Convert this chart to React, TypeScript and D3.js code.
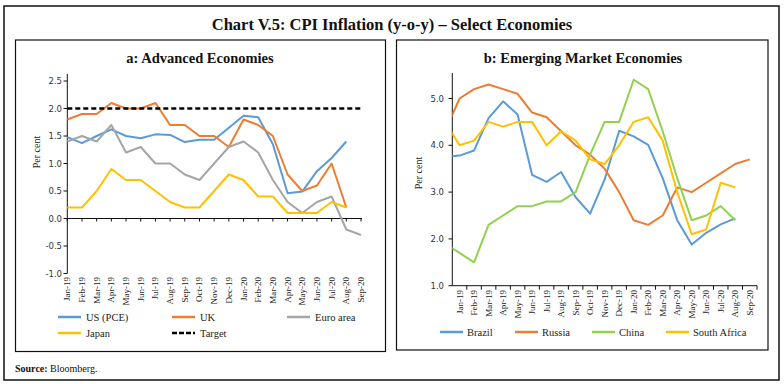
import React, { useEffect, useRef } from "react";
import * as d3 from "d3";

const months = ["Jan-19", "Feb-19", "Mar-19", "Apr-19", "May-19", "Jun-19", "Jul-19", "Aug-19", "Sep-19", "Oct-19", "Nov-19", "Dec-19",
  "Jan-20", "Feb-20", "Mar-20", "Apr-20", "May-20", "Jun-20", "Jul-20", "Aug-20", "Sep-20"];

// panel a: advanced economies (Jan-19 onwards)
const usPce = [1.48, 1.37, 1.5, 1.62, 1.5, 1.46, 1.53, 1.52, 1.39, 1.43, 1.43, 1.65, 1.87, 1.84, 1.35, 0.46, 0.49, 0.86, 1.1, 1.4];
const uk = [1.8, 1.9, 1.9, 2.1, 2.0, 2.0, 2.1, 1.7, 1.7, 1.5, 1.5, 1.3, 1.8, 1.7, 1.5, 0.8, 0.5, 0.6, 1.0, 0.2];
const euroArea = [1.4, 1.5, 1.4, 1.7, 1.2, 1.3, 1.0, 1.0, 0.8, 0.7, 1.0, 1.3, 1.4, 1.2, 0.7, 0.3, 0.1, 0.3, 0.4, -0.2, -0.3];
const japan = [0.2, 0.2, 0.5, 0.9, 0.7, 0.7, 0.5, 0.3, 0.2, 0.2, 0.5, 0.8, 0.7, 0.4, 0.4, 0.1, 0.1, 0.1, 0.3, 0.2];
const target = months.map(() => 2.0);

// panel b: emerging markets (first value is Dec-18, clipped at the axis)
const brazil = [3.75, 3.78, 3.89, 4.58, 4.94, 4.66, 3.37, 3.22, 3.43, 2.89, 2.54, 3.27, 4.31, 4.19, 4.01, 3.3, 2.4, 1.88, 2.13, 2.31, 2.44];
const russia = [4.3, 5.0, 5.2, 5.3, 5.2, 5.1, 4.7, 4.6, 4.3, 4.0, 3.8, 3.5, 3.0, 2.4, 2.3, 2.5, 3.1, 3.0, 3.2, 3.4, 3.6, 3.7];
const china = [1.9, 1.7, 1.5, 2.3, 2.5, 2.7, 2.7, 2.8, 2.8, 3.0, 3.8, 4.5, 4.5, 5.4, 5.2, 4.3, 3.3, 2.4, 2.5, 2.7, 2.4];
const southAfrica = [4.5, 4.0, 4.1, 4.5, 4.4, 4.5, 4.5, 4.0, 4.3, 4.1, 3.7, 3.6, 4.0, 4.5, 4.6, 4.1, 3.0, 2.1, 2.2, 3.2, 3.1];

const ticksA = [-1.0, -0.5, 0.0, 0.5, 1.0, 1.5, 2.0, 2.5];
const ticksB = [1.0, 2.0, 3.0, 4.0, 5.0];

const serif = "'Liberation Serif', 'DejaVu Serif', serif";
const sans = "'DejaVu Sans', sans-serif";

export default function App() {
  const ref = useRef<SVGSVGElement>(null);

  useEffect(() => {
    const svg = d3.select(ref.current);
    svg.selectAll("*").remove();

    svg.append("rect").attr("width", 784).attr("height", 384).attr("fill", "#fff");
    svg.append("rect").attr("x", 4).attr("y", 6).attr("width", 775).attr("height", 374)
      .attr("fill", "none").attr("stroke", "#111").attr("stroke-width", 1.5);
    svg.append("text").attr("x", 392).attr("y", 30).attr("text-anchor", "middle")
      .style("font-family", serif).style("font-size", "16.5px").style("font-weight", "bold").attr("fill", "#111")
      .text("Chart V.5: CPI Inflation (y-o-y) – Select Economies");

    // panel boxes
    svg.append("rect").attr("x", 15.5).attr("y", 40).attr("width", 370).attr("height", 311.5)
      .attr("fill", "none").attr("stroke", "#111").attr("stroke-width", 1.2);
    svg.append("rect").attr("x", 396.5).attr("y", 40).attr("width", 371.5).attr("height", 310)
      .attr("fill", "none").attr("stroke", "#111").attr("stroke-width", 1.2);

    const src = svg.append("text").attr("x", 15).attr("y", 372)
      .style("font-family", serif).style("font-size", "10px").attr("fill", "#111");
    src.append("tspan").style("font-weight", "bold").text("Source:");
    src.append("tspan").text(" Bloomberg.");

    const line = (x: (i: number) => number, y: d3.ScaleLinear<number, number>) =>
      d3.line<number>().x((d, i) => x(i)).y(d => y(d));

    // ---------- panel a ----------
    const a = svg.append("g");
    a.append("text").attr("x", 200).attr("y", 63).attr("text-anchor", "middle")
      .style("font-family", serif).style("font-size", "14.5px").style("font-weight", "bold").attr("fill", "#111")
      .text("a: Advanced Economies");

    const xa = d3.scalePoint<string>().domain(months).range([67.3, 361]);
    const ya = d3.scaleLinear().domain([-1, 2.5]).range([273.5, 81]);
    const xai = (i: number) => xa(months[i]) as number;

    a.append("line").attr("x1", 67.3).attr("x2", 67.3).attr("y1", 74).attr("y2", ya(-1))
      .attr("stroke", "#111").attr("stroke-width", 1);
    ticksA.forEach(t => {
      a.append("line").attr("x1", 63.5).attr("x2", 67.3).attr("y1", ya(t)).attr("y2", ya(t)).attr("stroke", "#111");
      a.append("text").attr("x", 62).attr("y", ya(t) + 3).attr("text-anchor", "end")
        .style("font-family", sans).style("font-size", "8.5px").attr("fill", "#333").text(t.toFixed(1));
    });
    a.append("line").attr("x1", 67.3).attr("x2", 362).attr("y1", ya(0)).attr("y2", ya(0))
      .attr("stroke", "#111").attr("stroke-width", 1);
    months.forEach(m => {
      const x = xa(m) as number;
      a.append("line").attr("x1", x).attr("x2", x).attr("y1", ya(0)).attr("y2", ya(0) + 3).attr("stroke", "#111");
      a.append("text").attr("transform", `translate(${x + 3},${277}) rotate(-90)`).attr("text-anchor", "end")
        .style("font-family", serif).style("font-size", "9px").attr("fill", "#222").text(m);
    });
    a.append("text").attr("transform", `translate(40,152) rotate(-90)`).attr("text-anchor", "middle")
      .style("font-family", serif).style("font-size", "10px").attr("fill", "#222").text("Per cent");

    const seriesA = [
      { name: "US (PCE)", values: usPce, color: "#5B9BD5" },
      { name: "UK", values: uk, color: "#ED7D31" },
      { name: "Euro area", values: euroArea, color: "#A5A5A5" },
      { name: "Japan", values: japan, color: "#FFC000" },
    ];
    seriesA.forEach(s => {
      a.append("path").attr("d", line(xai, ya)(s.values)).attr("fill", "none")
        .attr("stroke", s.color).attr("stroke-width", 2).attr("stroke-linejoin", "round");
    });
    a.append("path").attr("d", line(xai, ya)(target)).attr("fill", "none")
      .attr("stroke", "#000").attr("stroke-width", 2.5).attr("stroke-dasharray", "5,3");

    const legA = [
      { name: "US (PCE)", color: "#5B9BD5", x: 58, y: 317, dash: false },
      { name: "UK", color: "#ED7D31", x: 172, y: 317, dash: false },
      { name: "Euro area", color: "#A5A5A5", x: 287, y: 317, dash: false },
      { name: "Japan", color: "#FFC000", x: 58, y: 333, dash: false },
      { name: "Target", color: "#000", x: 172, y: 333, dash: true },
    ];
    legA.forEach(l => {
      a.append("line").attr("x1", l.x).attr("x2", l.x + 23).attr("y1", l.y).attr("y2", l.y)
        .attr("stroke", l.color).attr("stroke-width", 2.5)
        .attr("stroke-dasharray", l.dash ? "5,2" : null);
      a.append("text").attr("x", l.x + 28).attr("y", l.y + 3.5)
        .style("font-family", serif).style("font-size", "10.5px").attr("fill", "#222").text(l.name);
    });

    // ---------- panel b ----------
    const b = svg.append("g");
    b.append("text").attr("x", 583).attr("y", 63).attr("text-anchor", "middle")
      .style("font-family", serif).style("font-size", "14.5px").style("font-weight", "bold").attr("fill", "#111")
      .text("b: Emerging Market Economies");

    const xb = d3.scaleBand<string>().domain(months).range([452.3, 757]);
    const step = xb.step();
    const yb = d3.scaleLinear().domain([1, 5.5]).range([285.7, 75.1]);
    // index 0 is Dec-18, one step before Jan-19
    const xbi = (i: number) => (xb(months[0]) as number) + xb.bandwidth() / 2 + (i - 1) * step;

    b.append("clipPath").attr("id", "clipB").append("rect")
      .attr("x", 452.3).attr("y", 40).attr("width", 310).attr("height", 260);

    b.append("line").attr("x1", 452.3).attr("x2", 452.3).attr("y1", 73).attr("y2", yb(1))
      .attr("stroke", "#111").attr("stroke-width", 1);
    ticksB.forEach(t => {
      b.append("line").attr("x1", 448.5).attr("x2", 452.3).attr("y1", yb(t)).attr("y2", yb(t)).attr("stroke", "#111");
      b.append("text").attr("x", 444).attr("y", yb(t) + 3).attr("text-anchor", "end")
        .style("font-family", sans).style("font-size", "8.5px").attr("fill", "#333").text(t.toFixed(1));
    });
    b.append("line").attr("x1", 452.3).attr("x2", 757).attr("y1", yb(1)).attr("y2", yb(1))
      .attr("stroke", "#111").attr("stroke-width", 1);
    months.forEach(m => {
      const x0 = xb(m) as number;
      b.append("line").attr("x1", x0 + step).attr("x2", x0 + step).attr("y1", yb(1)).attr("y2", yb(1) + 4).attr("stroke", "#111");
      const xc = x0 + xb.bandwidth() / 2;
      b.append("text").attr("transform", `translate(${xc + 3},${290}) rotate(-90)`).attr("text-anchor", "end")
        .style("font-family", serif).style("font-size", "9px").attr("fill", "#222").text(m);
    });
    b.append("text").attr("transform", `translate(422,173) rotate(-90)`).attr("text-anchor", "middle")
      .style("font-family", serif).style("font-size", "10px").attr("fill", "#222").text("Per cent");

    const seriesB = [
      { name: "Brazil", values: brazil, color: "#5B9BD5", x: 440 },
      { name: "Russia", values: russia, color: "#ED7D31", x: 515 },
      { name: "China", values: china, color: "#92D050", x: 592 },
      { name: "South Africa", values: southAfrica, color: "#FFC000", x: 666 },
    ];
    const linesB = b.append("g").attr("clip-path", "url(#clipB)");
    seriesB.forEach(s => {
      linesB.append("path").attr("d", line(xbi, yb)(s.values)).attr("fill", "none")
        .attr("stroke", s.color).attr("stroke-width", 2).attr("stroke-linejoin", "round");
    });
    seriesB.forEach(s => {
      b.append("line").attr("x1", s.x).attr("x2", s.x + 23).attr("y1", 332).attr("y2", 332)
        .attr("stroke", s.color).attr("stroke-width", 2.5);
      b.append("text").attr("x", s.x + 27).attr("y", 335.5)
        .style("font-family", serif).style("font-size", "10.5px").attr("fill", "#222").text(s.name);
    });
  }, []);

  return (
    <svg ref={ref} width={784} height={384} style={{ position: "absolute", left: 0, top: 0 }} />
  );
}
